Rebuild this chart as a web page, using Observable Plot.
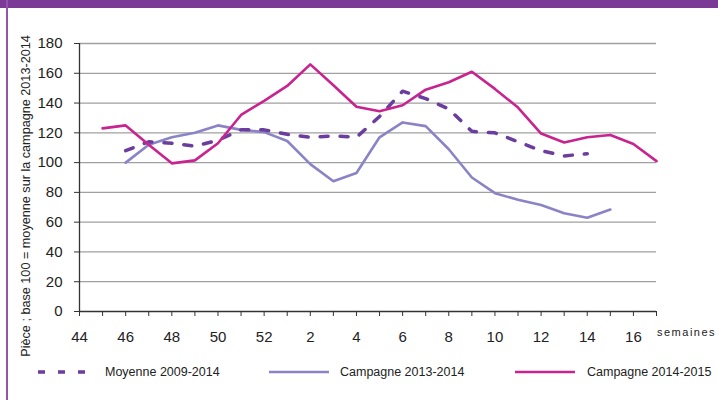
<!DOCTYPE html>
<html>
<head>
<meta charset="utf-8">
<script src="https://cdn.jsdelivr.net/npm/d3@7"></script>
<script src="https://cdn.jsdelivr.net/npm/@observablehq/plot@0.6"></script>
<style>
  html, body { margin: 0; padding: 0; background: #fff; }
  #frame { position: relative; width: 718px; height: 400px; overflow: hidden; background: #fff; font-family: "Liberation Sans", Arial, sans-serif; }
  #topbar { position: absolute; left: 0; top: 0; width: 718px; height: 8px; background: #7b3a96; }
  #leftbar { position: absolute; left: 6px; top: 0; width: 2px; height: 400px; background: #8e56ad; }
  #chart { position: absolute; left: 0; top: 0; }
  #legend { position: absolute; left: 0; top: 362px; width: 718px; height: 22px; font-size: 12.5px; color: #222; }
  .item { position: absolute; top: 0; display: flex; align-items: center; height: 20px; }
  .item svg { display: block; }
</style>
</head>
<body>
<div id="frame">
  <div id="chart"></div>
  <div id="topbar"></div>
  <div id="leftbar"></div>
  <div id="legend"></div>
</div>
<script>
// Week labels (x axis categories)
const semaines = [44, 45, 46, 47, 48, 49, 50, 51, 52, 1, 2, 3, 4, 5, 6, 7, 8, 9, 10, 11, 12, 13, 14, 15, 16, 17];
// Series values (index aligned with semaines, null = no data)
const moyenne2009_2014 = [null, null, 108, 114, 113, 111, 115, 122, 122, 119, 117, 118, 117, 131, 148, 143, 136, 121, 120, 114, 108, 104.5, 106, null, null, null];
const campagne2013_2014 = [null, null, 100, 112, 117, 120, 125, 122, 120.5, 114.5, 99, 87.5, 93, 117, 127, 124.5, 109, 90, 79.5, 75, 71.5, 66, 63, 68.5, null, null];
const campagne2014_2015 = [null, 123, 125, 112, 99.5, 101.5, 113, 132, 141.5, 151.5, 166, 152, 137.5, 134.5, 138.5, 149, 154, 161, 149.5, 137, 119.5, 113.5, 117, 118.5, 112.5, 101];
const yTicks = [0, 20, 40, 60, 80, 100, 120, 140, 160, 180];
const yTitle = "Pièce ; base 100 = moyenne sur la campagne 2013-2014";
const xTitle = "semaines";
const seriesNames = ["Moyenne 2009-2014", "Campagne 2013-2014", "Campagne 2014-2015"];
const seriesColors = ["#6a3d9e", "#8a84c7", "#c8238f"];

const toRows = arr => arr.map((v, i) => ({i, v}));

const plot = Plot.plot({
  width: 718,
  height: 400,
  marginLeft: 79,
  marginRight: 62,
  marginTop: 43,
  marginBottom: 89,
  style: {fontFamily: "'Liberation Sans', Arial, sans-serif", fontSize: "15px", color: "#222", background: "transparent"},
  x: {domain: [0, semaines.length - 1]},
  y: {domain: [0, 180]},
  marks: [
    Plot.gridY(yTicks.slice(1), {stroke: "#a0a0a0", strokeOpacity: 1, strokeWidth: 1.3}),
    Plot.line(toRows(campagne2013_2014), {x: "i", y: "v", stroke: seriesColors[1], strokeWidth: 2.6}),
    Plot.line(toRows(moyenne2009_2014), {x: "i", y: "v", stroke: seriesColors[0], strokeWidth: 3.5, strokeDasharray: "8,12"}),
    Plot.line(toRows(campagne2014_2015), {x: "i", y: "v", stroke: seriesColors[2], strokeWidth: 2.6}),
    Plot.ruleX([0], {y1: 0, y2: 180, stroke: "#333", strokeWidth: 1.3}),
    Plot.ruleY([0], {stroke: "#333", strokeWidth: 1.3}),
    Plot.axisY({ticks: yTicks, tickSize: 5, tickPadding: 12, fontSize: 15, label: null, stroke: "#333"}),
    Plot.axisX({ticks: d3.range(semaines.length), tickFormat: i => i % 2 === 0 ? String(semaines[i]) : "", tickSize: 5, tickPadding: 15, fontSize: 15, label: null, stroke: "#333"})
  ]
});

document.getElementById("chart").appendChild(plot);

const svg = d3.select(plot);
const yt = svg.append("text")
  .attr("transform", "translate(30,196) rotate(-90)")
  .attr("text-anchor", "middle")
  .attr("font-size", 13)
  .attr("fill", "#222")
  .text(yTitle);
// fit title length to the reference span (~325px)
const len = yt.node().getComputedTextLength();
if (len > 0) yt.attr("font-size", 13 * 322 / len);

svg.append("text")
  .attr("x", 657)
  .attr("y", 336)
  .attr("text-anchor", "start")
  .attr("font-size", 11)
  .attr("letter-spacing", "1.5px")
  .attr("fill", "#222")
  .text(xTitle);

// Legend
const legend = d3.select("#legend");
const items = [
  {x: 38, w: 50, textX: 105, dash: "7,13", sw: 3.5},
  {x: 269, w: 60, textX: 340, dash: null, sw: 2.6},
  {x: 515, w: 60, textX: 587, dash: null, sw: 2.6}
];
items.forEach((it, k) => {
  const s = legend.append("svg")
    .style("position", "absolute").style("left", it.x + "px").style("top", "0px")
    .attr("width", it.w).attr("height", 20);
  const l = s.append("line").attr("x1", 0).attr("x2", it.w).attr("y1", 10).attr("y2", 10)
    .attr("stroke", seriesColors[k]).attr("stroke-width", it.sw);
  if (it.dash) l.attr("stroke-dasharray", it.dash);
  legend.append("div").attr("class", "item").style("left", it.textX + "px").text(seriesNames[k]);
});
</script>
</body>
</html>
